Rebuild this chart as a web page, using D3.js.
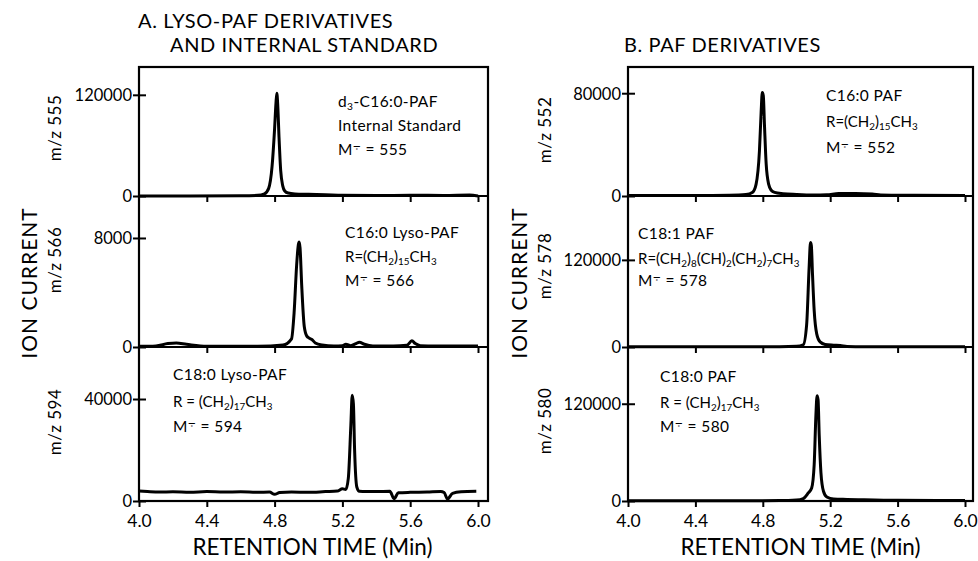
<html>
<head>
  <meta charset="utf-8">
  <title>Lyso-PAF and PAF ion chromatograms</title>
  <style>
    html, body { margin: 0; padding: 0; background: #fff; }
    svg { display: block; }
    text { font-family: Lato, "Noto Sans", sans-serif; fill: #000; }
  </style>
  <script src="https://d3js.org/d3.v7.min.js"></script>
</head>
<body>
<script>
  // ---- data ----
  var retentionTicks = [4.0, 4.4, 4.8, 5.2, 5.6, 6.0];

  // A. lyso-PAF derivatives + internal standard
  var t555 = [4.00, 4.30, 4.60, 4.70, 4.74, 4.765, 4.785, 4.800, 4.808, 4.813, 4.818, 4.826, 4.836, 4.848, 4.86, 4.88, 4.92, 5.00, 5.10, 5.20, 5.40, 5.60, 5.80, 5.95, 6.00];
  var v555 = [0, 0, 300, 800, 2500, 9000, 35000, 80000, 110000, 122000, 110000, 70000, 30000, 12000, 6000, 3500, 2500, 2000, 1500, 800, 600, 800, 700, 1200, 0];

  var t566 = [4.00, 4.10, 4.17, 4.22, 4.28, 4.40, 4.70, 4.85, 4.90, 4.915, 4.93, 4.94, 4.945, 4.95, 4.96, 4.975, 4.99, 5.005, 5.02, 5.04, 5.08, 5.15, 5.20, 5.22, 5.25, 5.28, 5.30, 5.33, 5.38, 5.50, 5.58, 5.61, 5.63, 5.66, 5.75, 5.90, 6.00];
  var v566 = [50, 80, 250, 300, 200, 50, 60, 150, 600, 2500, 6000, 7500, 7700, 7300, 4500, 1500, 800, 650, 550, 300, 150, 80, 100, 200, 100, 250, 350, 200, 80, 80, 120, 450, 250, 100, 80, 80, 80];

  var t594 = [4.00, 4.05, 4.12, 4.20, 4.30, 4.40, 4.50, 4.60, 4.70, 4.77, 4.80, 4.83, 4.90, 5.00, 5.10, 5.17, 5.20, 5.22, 5.235, 5.25, 5.258, 5.265, 5.272, 5.285, 5.30, 5.34, 5.40, 5.48, 5.505, 5.53, 5.60, 5.70, 5.78, 5.80, 5.82, 5.85, 5.90, 5.99];
  var v594 = [3900, 3700, 3500, 3600, 3400, 3700, 3500, 3600, 3400, 3500, 2600, 3300, 3500, 3400, 3700, 3900, 4800, 4500, 9000, 30000, 41500, 38000, 20000, 5500, 3800, 3700, 3700, 3800, 900, 3200, 3400, 3500, 3700, 3300, 800, 3000, 3600, 3800];

  // B. PAF derivatives
  var t552 = [4.00, 4.40, 4.60, 4.70, 4.74, 4.76, 4.78, 4.79, 4.797, 4.803, 4.81, 4.82, 4.835, 4.85, 4.87, 4.92, 5.00, 5.10, 5.18, 5.25, 5.35, 5.45, 5.50, 5.70, 6.00];
  var v552 = [300, 300, 600, 1200, 3000, 9000, 35000, 65000, 80500, 78000, 55000, 25000, 9000, 4500, 2800, 1800, 1200, 800, 1000, 1900, 2000, 1600, 800, 500, 300];

  var t578 = [4.00, 4.50, 4.90, 5.00, 5.04, 5.06, 5.075, 5.083, 5.088, 5.095, 5.105, 5.12, 5.14, 5.17, 5.22, 5.26, 5.30, 5.40, 5.60, 6.00];
  var v578 = [300, 300, 500, 1000, 3000, 30000, 110000, 144000, 140000, 100000, 50000, 18000, 7000, 3500, 2500, 2000, 600, 300, 300, 300];

  var t580 = [4.00, 4.50, 4.90, 5.00, 5.04, 5.07, 5.09, 5.105, 5.115, 5.122, 5.128, 5.135, 5.145, 5.16, 5.18, 5.22, 5.30, 5.40, 5.60, 6.00];
  var v580 = [300, 300, 500, 1200, 3000, 10000, 16000, 45000, 105000, 130000, 125000, 80000, 35000, 12000, 5000, 2500, 2000, 1500, 800, 500];

  // ---- layout ----
  var W = 978, H = 561;
  var svg = d3.select("body").append("svg").attr("width", W).attr("height", H);

  // rows: pixel bounds; ymax is the value that lands on the top of the row
  var rowsY = [[67, 196], [196, 347], [347, 501]];
  var columns = [
    {
      x0: 139, x1: 478, right: 488, ionX: 37,
      panels: [
        { t: t555, v: v555, mz: "m/z 555", ymax: 153000, tick: 120000, labelY: 128, note: ["d_{3}-C16:0-PAF", "Internal Standard", "M^{~} = 555"], nx: 338, ny: [107, 131, 155] },
        { t: t566, v: v566, mz: "m/z 566", ymax: 11080, tick: 8000, labelY: 260, note: ["C16:0 Lyso-PAF", "R=(CH_{2})_{15}CH_{3}", "M^{~} = 566"], nx: 345, ny: [238, 262, 286] },
        { t: t594, v: v594, mz: "m/z 594", ymax: 60400, tick: 40000, labelY: 422, note: ["C18:0 Lyso-PAF", "R = (CH_{2})_{17}CH_{3}", "M^{~} = 594"], nx: 173, ny: [380, 407, 432] }
      ]
    },
    {
      x0: 628, x1: 965, right: 973, ionX: 527,
      panels: [
        { t: t552, v: v552, mz: "m/z 552", ymax: 100400, tick: 80000, labelY: 130, note: ["C16:0 PAF", "R=(CH_{2})_{15}CH_{3}", "M^{~} = 552"], nx: 826, ny: [101, 127, 153] },
        { t: t578, v: v578, mz: "m/z 578", ymax: 208000, tick: 120000, labelY: 266, note: ["C18:1 PAF", "R=(CH_{2})_{8}(CH)_{2}(CH_{2})_{7}CH_{3}", "M^{~} = 578"], nx: 638, ny: [239, 264, 286] },
        { t: t580, v: v580, mz: "m/z 580", ymax: 190000, tick: 120000, labelY: 421, note: ["C18:0 PAF", "R = (CH_{2})_{17}CH_{3}", "M^{~} = 580"], nx: 660, ny: [382, 408, 432] }
      ]
    }
  ];

  // "CH_{2}" style sub/superscripts with tspans; ^{~} is the radical-ion mark (minus with dot below)
  function richText(sel, str) {
    var parts = str.split(/([_^]\{[^}]*\})/);
    parts.forEach(function (p) {
      if (!p) return;
      if (p === "^{~}") {
        sel.append("tspan").attr("font-size", "0.85em").attr("baseline-shift", "35%")
          .style("font-family", "'DejaVu Sans', sans-serif").text("\u2A2A");
      } else if (p[0] === "_") {
        sel.append("tspan").attr("font-size", "0.66em").attr("baseline-shift", "-30%").text(p.slice(2, -1));
      } else if (p[0] === "^") {
        sel.append("tspan").attr("font-size", "0.75em").attr("baseline-shift", "45%").text(p.slice(2, -1));
      } else {
        sel.append("tspan").text(p);
      }
    });
  }

  columns.forEach(function (col) {
    var x = d3.scaleLinear().domain([4.0, 6.0]).range([col.x0, col.x1]);
    var g = svg.append("g");

    col.panels.forEach(function (p, i) {
      var y = d3.scaleLinear().domain([0, p.ymax]).range([rowsY[i][1], rowsY[i][0]]);
      var pts = d3.zip(p.t, p.v);

      var line = d3.line()
        .x(function (d) { return x(d[0]); })
        .y(function (d) { return y(d[1]); })
        .curve(d3.curveMonotoneX);

      g.append("path")
        .datum(pts)
        .attr("d", line)
        .attr("fill", "none")
        .attr("stroke", "#000")
        .attr("stroke-width", 3)
        .attr("stroke-linejoin", "round");

      // y axis: zero and one labelled tick
      var yAxis = d3.axisLeft(y).tickValues([0, p.tick]).tickSize(6).tickPadding(2).tickFormat(d3.format("d"));
      var ya = g.append("g").attr("transform", "translate(" + (col.x0 + 7) + ",0)").call(yAxis);
      ya.select(".domain").remove();
      ya.selectAll("line").attr("stroke", "#000").attr("stroke-width", 2).attr("x2", -13);
      ya.selectAll("text").attr("font-size", 16.5).attr("x", -14).attr("dy", "0.36em");

      // x ticks on each row's bottom line, pointing down into the next row / outside
      var xAxis = d3.axisBottom(x).tickValues(i === 2 ? retentionTicks : retentionTicks.slice(1)).tickSize(6)
        .tickFormat(i === 2 ? d3.format(".1f") : "");
      var xa = g.append("g").attr("transform", "translate(0," + rowsY[i][1] + ")").call(xAxis);
      xa.select(".domain").remove();
      xa.selectAll("line").attr("stroke", "#000").attr("stroke-width", 2);
      xa.selectAll("text").attr("font-size", 17.5).attr("dy", "0.95em");

      // row divider
      g.append("line")
        .attr("x1", col.x0).attr("x2", col.right)
        .attr("y1", rowsY[i][1]).attr("y2", rowsY[i][1])
        .attr("stroke", "#000").attr("stroke-width", 2.2);

      // m/z label
      g.append("text")
        .attr("transform", "translate(" + (col.ionX + 24) + "," + p.labelY + ") rotate(-90)")
        .attr("text-anchor", "middle")
        .attr("font-size", 17)
        .attr("letter-spacing", 0.5)
        .text(p.mz);

      // compound notes (formula lines are set tighter, as in the figure)
      p.note.forEach(function (s, k) {
        var formula = s.indexOf("_{") >= 0 && s[0] === "R";
        richText(g.append("text").attr("x", p.nx).attr("y", p.ny[k])
          .attr("font-size", formula ? 15 : 15.5)
          .attr("letter-spacing", formula ? 0 : 0.4), s);
      });
    });

    // outer frame
    g.append("rect")
      .attr("x", col.x0).attr("y", rowsY[0][0])
      .attr("width", col.right - col.x0).attr("height", rowsY[2][1] - rowsY[0][0])
      .attr("fill", "none").attr("stroke", "#000").attr("stroke-width", 2.2);

    g.append("text")
      .attr("transform", "translate(" + col.ionX + "," + 283 + ") rotate(-90)")
      .attr("text-anchor", "middle")
      .attr("font-size", 21)
      .attr("letter-spacing", 1)
      .text("ION CURRENT");

    g.append("text")
      .attr("x", (col.x0 + col.x1) / 2 + 4).attr("y", 555)
      .attr("text-anchor", "middle")
      .attr("font-size", 22.5)
      .text("RETENTION TIME (Min)");
  });

  // panel titles
  svg.append("text").attr("x", 138).attr("y", 28).attr("font-size", 20).attr("letter-spacing", 0.6).text("A.  LYSO-PAF DERIVATIVES");
  svg.append("text").attr("x", 170).attr("y", 52).attr("font-size", 20).attr("letter-spacing", 0.6).text("AND INTERNAL STANDARD");
  svg.append("text").attr("x", 624).attr("y", 52).attr("font-size", 20).attr("letter-spacing", 0.6).text("B.  PAF DERIVATIVES");
</script>
</body>
</html>
